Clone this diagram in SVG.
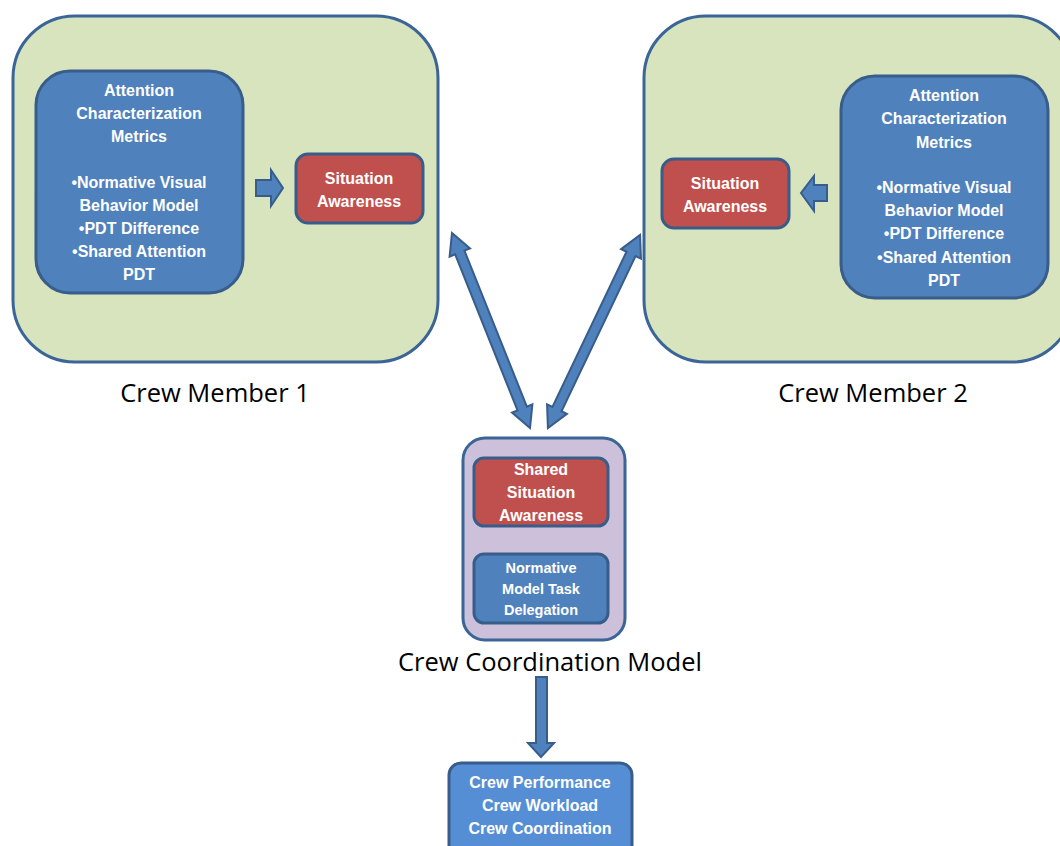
<svg xmlns="http://www.w3.org/2000/svg" width="1060" height="846" viewBox="0 0 1060 846">
<style>
.grp{fill:#d7e4bd;stroke:#3b6597;stroke-width:3}
.blue{fill:#4f81bd;stroke:#385d8a;stroke-width:3}
.red{fill:#c0504d;stroke:#385d8a;stroke-width:3}
.purple{fill:#ccc0da;stroke:#3b6597;stroke-width:3}
.light{fill:#558ed5;stroke:#385d8a;stroke-width:3}
.arr{fill:#4f81bd;stroke:#385d8a;stroke-width:2;stroke-linejoin:miter}
.t{font-family:"Liberation Sans",Arial,sans-serif;font-weight:bold;font-size:16px;fill:#fff;text-anchor:middle}
.lbl{font-family:"Open Sans","Liberation Sans",sans-serif;font-size:25.5px;fill:#000;text-anchor:middle}
</style>
<rect width="1060" height="846" fill="#fff"/>
<g id="crew1">
<rect class="grp" x="13" y="16" width="425" height="346" rx="62"/>
<text class="lbl" x="215" y="402">Crew Member 1</text>
</g>
<g id="metrics1">
<rect class="blue" x="36" y="71" width="207" height="222" rx="34"/>
<text class="t" x="139" y="96">Attention</text>
<text class="t" x="139" y="119">Characterization</text>
<text class="t" x="139" y="142">Metrics</text>
<text class="t" x="139" y="188">•Normative Visual</text>
<text class="t" x="139" y="211">Behavior Model</text>
<text class="t" x="139" y="234">•PDT Difference</text>
<text class="t" x="139" y="257">•Shared Attention</text>
<text class="t" x="139" y="280">PDT</text>
</g>
<g id="sa1">
<rect class="red" x="296" y="154" width="127" height="69" rx="12"/>
<text class="t" x="359" y="184">Situation</text>
<text class="t" x="359" y="207">Awareness</text>
</g>
<g id="crew2">
<rect class="grp" x="644" y="16" width="430" height="346" rx="62"/>
<text class="lbl" x="873" y="402">Crew Member 2</text>
</g>
<g id="metrics2">
<rect class="blue" x="841" y="76" width="207" height="222" rx="34"/>
<text class="t" x="944" y="101">Attention</text>
<text class="t" x="944" y="124">Characterization</text>
<text class="t" x="944" y="148">Metrics</text>
<text class="t" x="944" y="193">•Normative Visual</text>
<text class="t" x="944" y="216">Behavior Model</text>
<text class="t" x="944" y="239">•PDT Difference</text>
<text class="t" x="944" y="263">•Shared Attention</text>
<text class="t" x="944" y="286">PDT</text>
</g>
<g id="sa2">
<rect class="red" x="662" y="159" width="127" height="69" rx="12"/>
<text class="t" x="725" y="189">Situation</text>
<text class="t" x="725" y="212">Awareness</text>
</g>
<g id="ccm">
<rect class="purple" x="463" y="438" width="162" height="202" rx="22"/>
<text class="lbl" x="550" y="671">Crew Coordination Model</text>
</g>
<g id="ssa">
<rect class="red" x="474" y="458" width="134" height="68" rx="10"/>
<text class="t" x="541" y="475">Shared</text>
<text class="t" x="541" y="498">Situation</text>
<text class="t" x="541" y="521">Awareness</text>
</g>
<g id="nmtd">
<rect class="blue" x="474" y="554" width="134" height="69" rx="10"/>
<text class="t" x="541" y="573" style="font-size:14.5px">Normative</text>
<text class="t" x="541" y="594" style="font-size:14.5px">Model Task</text>
<text class="t" x="541" y="615" style="font-size:14.5px">Delegation</text>
</g>
<g id="outcome">
<rect class="light" x="449" y="763" width="183" height="100" rx="12"/>
<text class="t" x="540" y="788">Crew Performance</text>
<text class="t" x="540" y="811">Crew Workload</text>
<text class="t" x="540" y="834">Crew Coordination</text>
</g>
<g id="connectors">
<polygon class="arr" points="256,180 271,180 271,170 283,188 271,206 271,196 256,196"/>
<polygon class="arr" points="827,185 814,185 814,176 801,193 814,211 814,201 827,201"/>
<polygon class="arr" transform="translate(491,330.5) rotate(68.2)" points="-105,0 -84,-11 -84,-5 84,-5 84,-11 105,0 84,11 84,5 -84,5 -84,11"/>
<polygon class="arr" transform="translate(594,331.5) rotate(115.5)" points="-107,0 -86,-11 -86,-5 86,-5 86,-11 107,0 86,11 86,5 -86,5 -86,11"/>
<polygon class="arr" points="536,677 547,677 547,743 554,743 541,757 528,743 536,743"/>
</g>
</svg>
